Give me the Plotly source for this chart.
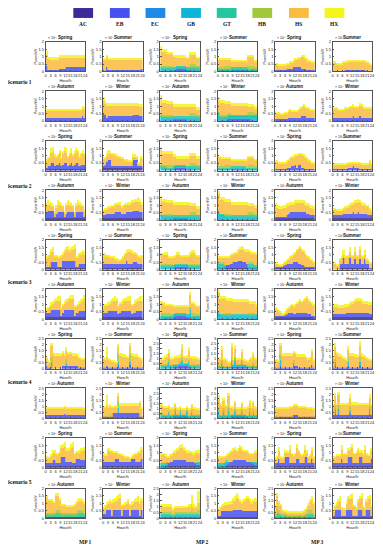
import plotly.graph_objects as go

# ---------------- categories / labels ----------------
series_names = ["AC", "EB", "EC", "GB", "GT", "HB", "HS", "HX"]
series_colors = ["#3b2a98", "#4751f0", "#1c8ae6", "#0fb5d6", "#22c79f", "#9fc83a", "#fcbb3e", "#f4f51a"]
hours = list(range(24))
hour_ticks = [0, 3, 6, 9, 12, 15, 18, 21, 24]
hour_tick_labels = ["0", "3", "6", "9", "12", "15", "18", "21", "24"]
scenario_labels = ["Scenario 1", "Scenario 2", "Scenario 3", "Scenario 4", "Scenario 5"]
mp_labels = ["MP 1", "MP 2", "MP 3"]
season_row_a = ["Spring", "Summer"]
season_row_b = ["Autumn", "Winter"]

# ---------------- data (units of 0.1 x 10^4 kW) ----------------
# Scenario 1
s1_mp1_spring = {"EB": [4,1,1,1,1,1,1,1,2,2,2,2,3,3,3,3,3,3,3,3,3,3,3,3],
                 "HS": [7,8,7,7,7,7,7,7,7,7,7,7,6,6,6,6,6,6,6,6,6,6,6,6],
                 "HX": [3,1,2,2,2,2,2,2,2,2,2,2,2,2,2,2,2,2,2,2,2,2,2,2]}
s1_mp1_summer = {"EB": [1,0,3,1,1,1,1,1,1,1,1,1,1,1,1,1,1,1,1,1,1,1,1,2],
                 "HS": [7,8,7,7,7,7,7,7,7,7,7,7,7,7,7,7,7,7,7,7,7,7,7,6],
                 "HX": [1,1,1,1,1,1,1,1,1,1,1,1,1,1,1,1,1,1,1,1,1,1,1,1]}
s1_mp2_spring = {"EB": [0,0,0,0,0,0,0,0,1,1,2,2,2,2,2,2,1,1,0,0,0,0,0,0],
                 "GB": [2,2,2,2,2,2,2,2,1,1,1,1,1,1,1,1,1,1,2,2,2,2,2,2],
                 "GT": [1,1,1,1,1,1,1,1,1,1,1,1,1,1,1,1,1,1,1,1,1,1,1,1],
                 "HB": [1,1,1,1,1,1,1,1,0,0,0,0,0,0,0,0,0,0,2,2,2,2,1,1],
                 "HS": [11,9,9,9,8,8,8,8,7,7,5,5,5,5,5,5,6,6,6,6,6,6,5,5],
                 "HX": [2,2,2,2,1,1,1,1,1,1,2,2,2,2,2,2,1,1,2,2,2,2,1,1]}
s1_mp2_summer = {"EB": [0,0,0,0,0,0,0,0,1,1,1,1,1,1,1,1,1,1,0,0,0,0,0,0],
                 "GB": [1,1,1,1,1,1,1,1,1,1,1,1,1,1,1,1,1,1,1,1,1,1,1,1],
                 "GT": [1,1,1,1,1,1,1,1,1,1,1,1,1,1,1,1,1,1,1,1,1,1,1,1],
                 "HB": [1,1,1,1,2,2,2,2,0,0,0,0,0,0,0,0,0,0,2,2,2,2,1,1],
                 "HS": [5,5,5,5,4,4,4,4,4,4,4,4,4,4,4,4,4,4,6,6,6,6,4,4],
                 "HX": [1,1,1,1,1,1,1,1,1,1,1,1,1,1,1,1,1,1,1,1,1,1,1,1]}
s1_mp3_spring = {"EB": [1,1,1,1,1,1,1,2,2,2,2,3,3,3,3,3,2,2,2,1,1,1,1,1],
                 "HS": [4,4,3,3,3,3,3,3,3,4,4,4,5,5,6,6,8,8,7,7,6,6,5,5],
                 "HX": [1,1,1,1,1,1,1,1,1,1,1,1,1,1,1,1,1,1,1,1,1,1,1,1]}
s1_mp3_summer = {"EB": [0,0,0,0,0,0,0,1,1,1,1,1,1,1,1,1,1,1,1,1,0,0,0,0],
                 "HS": [6,6,5,5,5,5,6,5,5,6,6,6,6,6,6,6,6,6,6,6,6,6,5,4],
                 "HX": [1,1,1,1,1,1,1,1,1,1,1,1,1,1,1,1,1,1,1,1,1,1,1,1]}
s1_mp1_autumn = {"EB": [2,2,2,2,2,2,2,2,2,2,2,2,2,2,2,2,2,2,2,2,2,2,3,2],
                 "HS": [5,5,5,5,5,5,5,5,5,5,5,5,5,5,5,5,5,5,5,5,5,5,5,5],
                 "HX": [1,1,1,1,1,1,1,1,1,1,1,1,1,1,1,1,1,1,1,1,1,1,2,2]}
s1_mp1_winter = {"EB": [5,4,2,3,3,3,3,3,3,3,3,3,3,3,3,3,3,3,4,4,4,4,3,3],
                 "HS": [8,7,8,7,7,7,7,7,7,7,7,7,7,7,7,7,7,7,6,6,6,6,6,6],
                 "HX": [3,2,2,2,2,2,2,2,2,2,2,2,2,2,2,2,2,2,2,2,2,2,2,2]}
s1_mp2_autumn = {"EB": [0,0,0,0,0,0,0,0,1,1,1,1,1,1,1,1,0,0,0,0,0,0,0,0],
                 "GB": [3,2,2,2,2,2,2,2,1,1,1,1,1,1,1,1,2,2,2,2,2,2,2,2],
                 "GT": [1,1,1,1,1,1,1,1,1,1,1,1,1,1,1,1,1,1,1,1,1,1,1,1],
                 "HB": [1,1,1,1,1,1,1,1,0,0,0,0,0,0,0,0,0,0,2,2,2,2,1,1],
                 "HS": [10,8,8,8,7,7,7,7,6,6,6,6,6,6,6,6,6,6,4,4,4,4,3,3],
                 "HX": [2,2,2,2,2,2,2,2,2,2,2,2,2,2,2,2,2,2,2,2,2,2,2,2]}
s1_mp2_winter = {"EB": [0,0,0,0,0,0,1,1,1,1,1,1,1,1,1,1,1,1,1,1,0,0,0,0],
                 "GB": [4,2,2,2,2,2,2,2,2,2,2,2,2,2,2,2,2,2,2,2,3,3,3,3],
                 "GT": [1,1,1,1,1,1,1,1,1,1,1,1,1,1,1,1,1,1,1,1,1,1,1,1],
                 "HB": [1,1,1,1,1,1,1,1,0,0,0,0,0,0,0,0,0,0,2,2,2,2,1,1],
                 "HS": [8,8,8,8,7,7,6,6,6,6,6,6,6,6,6,6,6,6,3,3,3,3,3,3],
                 "HX": [2,2,2,2,2,2,2,2,2,2,2,2,2,2,2,2,2,2,2,2,2,2,2,2]}
s1_mp3_autumn = {"EB": [1,1,1,1,1,1,1,1,2,2,2,2,2,2,2,2,3,3,3,2,2,2,2,2],
                 "HS": [4,4,4,3,3,3,4,4,4,5,4,4,4,4,5,6,6,7,6,6,6,5,5,5],
                 "HX": [1,1,1,1,1,1,1,1,1,1,1,1,1,1,1,1,1,1,1,1,1,1,1,1]}
s1_mp3_winter = {"EB": [2,2,2,2,2,2,2,2,2,2,2,2,3,2,2,2,3,2,2,2,2,2,2,2],
                 "HS": [6,6,6,5,5,5,5,6,6,6,7,7,6,7,7,7,7,8,7,6,6,6,6,6],
                 "HX": [1,1,1,1,1,1,1,1,1,1,1,1,2,1,1,1,2,1,1,1,1,1,1,1]}

# Scenario 2
s2_mp1_spring = {"AC": [1,1,1,1,1,1,1,1,1,1,1,1,1,1,1,1,1,1,1,1,1,1,1,1],
                 "EB": [1,2,2,4,4,2,3,3,4,2,3,4,4,2,3,4,2,3,4,4,2,3,3,3],
                 "HS": [5,5,6,7,8,7,5,6,7,5,7,8,7,6,7,7,7,7,8,7,6,7,8,7],
                 "HX": [1,1,1,3,3,1,1,1,2,1,2,3,3,1,1,3,1,2,2,2,1,1,2,1]}
s2_mp1_summer = {"AC": [2,2,2,2,2,2,2,2,2,2,2,2,2,2,2,2,2,2,2,2,2,2,2,2],
                 "EB": [1,2,4,5,5,1,1,1,1,1,1,1,1,1,1,1,1,1,5,5,5,1,1,1],
                 "HS": [5,4,4,4,4,8,8,7,7,6,6,5,5,4,4,3,3,3,2,2,2,2,2,5],
                 "HX": [1,1,2,3,2,1,1,1,1,1,1,1,1,1,1,1,1,1,2,2,1,1,1,2]}
s2_mp2_spring = {"EB": [0,0,0,0,0,0,0,0,1,2,2,2,2,2,2,2,1,1,0,0,0,0,0,0],
                 "GB": [3,2,2,2,1,1,1,1,1,1,1,1,1,1,1,1,1,1,2,2,2,2,2,2],
                 "GT": [1,1,1,1,1,1,1,1,1,1,1,1,1,1,1,1,1,1,1,1,1,1,1,1],
                 "HB": [1,1,1,1,2,2,2,2,0,0,0,0,0,0,0,0,0,0,2,2,2,2,1,1],
                 "HS": [9,7,7,7,7,7,7,7,6,5,4,4,4,4,4,4,5,5,5,5,5,5,4,4],
                 "HX": [2,2,2,2,2,2,2,2,2,2,2,2,2,2,2,2,2,2,2,2,2,2,2,2]}
s2_mp2_summer = {"EB": [0,0,0,0,0,0,0,0,1,1,1,1,1,1,1,1,1,0,0,0,0,0,0,0],
                 "GB": [1,1,1,1,1,1,1,1,1,1,1,1,1,1,1,1,1,1,1,1,1,1,1,1],
                 "GT": [1,1,1,1,1,1,1,1,1,1,1,1,1,1,1,1,1,1,1,1,1,1,1,1],
                 "HB": [1,1,1,1,2,2,2,2,0,0,0,0,0,0,0,0,0,0,2,2,2,2,1,1],
                 "HS": [6,6,5,5,4,4,4,4,4,4,4,4,4,4,4,4,4,5,5,5,5,5,4,4],
                 "HX": [1,1,1,1,1,1,1,1,1,1,1,1,1,1,1,1,1,1,1,1,1,1,1,1]}
s2_mp3_spring = {"EB": [1,1,1,1,1,1,1,2,2,2,3,3,4,2,4,4,2,2,1,1,1,1,1,1],
                 "HS": [5,5,4,4,4,4,4,4,5,6,6,6,6,8,7,7,9,8,8,7,6,5,4,4],
                 "HX": [1,1,1,1,1,1,1,1,1,1,1,1,1,1,1,1,1,1,1,1,1,1,1,1]}
s2_mp3_summer = {"EB": [1,1,1,1,1,1,1,1,1,2,2,2,3,2,2,2,1,1,1,1,1,1,1,1],
                 "HS": [3,3,3,3,3,3,3,3,3,3,3,3,2,3,3,3,4,3,3,3,3,3,5,3],
                 "HX": [1,1,1,1,1,1,1,1,1,1,1,1,1,1,1,1,1,1,1,1,1,1,1,1]}
s2_mp1_autumn = {"AC": [1,1,1,1,1,1,1,1,1,1,1,1,1,1,1,1,1,1,1,1,1,1,1,1],
                 "EB": [4,5,5,5,5,1,3,4,4,4,4,1,3,4,4,4,4,1,4,4,4,4,4,1],
                 "HS": [4,4,4,3,3,3,4,5,5,4,4,3,5,5,5,4,4,3,4,5,5,4,4,4],
                 "HX": [2,3,2,2,1,1,2,3,2,2,1,1,2,3,2,2,1,1,2,3,2,2,1,1]}
s2_mp1_winter = {"AC": [1,1,1,1,1,1,1,1,1,1,1,1,1,1,1,1,1,1,1,1,1,1,1,1],
                 "EB": [2,2,3,3,3,3,3,4,4,4,4,3,3,3,4,4,4,4,5,5,5,5,4,4],
                 "HS": [3,4,3,4,4,5,5,5,5,5,5,4,5,6,5,5,5,6,5,6,6,6,7,5],
                 "HX": [1,1,1,1,1,1,1,1,1,2,2,1,1,1,1,2,2,2,2,2,2,3,2,2]}
s2_mp2_autumn = {"EB": [0,0,0,0,0,0,0,0,1,1,1,1,1,1,1,1,1,0,0,0,0,0,0,0],
                 "GB": [3,2,2,2,2,2,2,2,1,1,1,1,1,1,1,1,1,2,2,2,2,2,2,2],
                 "GT": [1,1,1,1,1,1,1,1,1,1,1,1,1,1,1,1,1,1,1,1,1,1,1,1],
                 "HB": [0,0,0,0,1,1,1,1,0,0,0,0,0,0,0,0,0,0,2,2,2,2,0,0],
                 "HS": [10,9,9,9,7,7,7,7,7,7,7,7,7,7,7,7,7,7,4,4,4,4,4,4],
                 "HX": [2,2,2,2,2,2,2,2,2,2,2,2,2,2,2,2,2,2,2,2,2,2,2,2]}
s2_mp2_winter = {"GB": [5,3,3,3,2,2,2,2,2,2,2,2,2,2,2,2,2,2,2,2,2,2,2,2],
                 "GT": [1,1,1,1,1,1,1,1,1,1,1,1,1,1,1,1,1,1,1,1,1,1,1,1],
                 "HB": [0,0,0,0,1,1,1,1,0,0,0,0,0,0,0,0,0,0,2,2,2,2,1,1],
                 "HS": [11,9,9,9,8,8,8,8,7,7,7,7,7,7,7,7,7,7,4,4,4,4,4,4],
                 "HX": [2,2,2,2,2,2,2,2,2,2,2,2,2,2,2,2,2,2,2,2,2,2,2,2]}
s2_mp3_autumn = {"AC": [1,1,1,1,1,1,1,1,1,1,1,1,1,1,1,1,1,1,1,1,1,1,1,1],
                 "EB": [1,1,1,1,1,1,1,2,3,4,4,4,4,4,4,4,4,4,4,3,3,2,2,2],
                 "HS": [7,6,5,5,5,6,6,6,5,5,5,5,6,6,6,6,6,6,5,5,5,5,5,4],
                 "HX": [2,2,2,2,2,2,2,2,2,2,2,2,2,2,2,2,2,2,2,2,2,2,2,2]}
s2_mp3_winter = {"AC": [1,1,1,1,1,1,1,1,1,1,1,1,1,1,1,1,1,1,1,1,1,1,1,1],
                 "EB": [2,2,2,2,2,2,3,3,3,3,3,3,4,3,3,4,3,3,3,3,3,2,2,2],
                 "HS": [4,4,3,3,3,3,3,4,4,4,5,6,5,7,7,7,7,6,5,6,5,6,4,3],
                 "HX": [1,1,1,1,1,1,1,1,1,2,2,2,2,2,2,2,2,2,2,1,1,1,1,1]}

# Scenario 3
s3_mp1_spring = {"AC": [1,1,1,1,1,1,1,1,1,1,1,1,1,1,1,1,1,1,1,1,1,1,1,1],
                 "EB": [1,1,1,4,4,4,4,1,1,1,5,5,5,5,5,5,5,5,1,1,3,3,3,3],
                 "HS": [6,7,8,7,7,4,4,6,6,7,4,6,7,7,6,7,7,8,6,6,6,6,7,6],
                 "HX": [1,1,1,2,3,1,1,1,1,1,2,2,2,3,2,2,3,3,1,1,1,2,2,2]}
s3_mp1_summer = {"AC": [1,1,1,1,1,1,1,1,1,1,1,1,1,1,1,1,1,1,1,1,1,1,1,1],
                 "EB": [3,3,3,3,3,3,3,3,3,3,3,3,3,3,5,3,3,3,4,4,4,3,3,3],
                 "HS": [5,6,5,5,4,4,4,3,3,2,2,3,4,6,5,8,8,7,6,6,5,5,4,5],
                 "HX": [1,1,1,1,1,1,1,1,1,1,1,1,1,1,2,2,2,2,1,1,1,1,1,1]}
s3_mp2_spring = {"EB": [0,0,0,0,0,0,0,0,1,2,2,2,2,2,2,2,2,1,0,0,0,0,0,0],
                 "GB": [2,2,2,2,2,2,2,2,1,1,1,1,1,1,1,1,1,1,2,2,2,2,2,2],
                 "GT": [1,1,1,1,1,1,1,1,1,1,1,1,1,1,1,1,1,1,1,1,1,1,1,1],
                 "HB": [1,1,1,1,1,1,1,1,0,0,0,0,0,0,0,0,0,0,1,1,1,1,1,1],
                 "HS": [6,6,6,6,6,4,4,4,5,5,6,6,5,5,5,5,5,6,6,7,7,6,5,5],
                 "HX": [1,1,1,2,2,1,1,1,1,1,2,2,1,1,1,1,1,1,2,2,2,2,1,1]}
s3_mp2_summer = {"AC": [1,1,1,1,1,1,1,1,1,1,1,1,1,1,1,1,1,1,1,1,1,1,1,1],
                 "EB": [0,0,0,0,1,2,2,3,3,4,4,4,5,5,5,4,4,3,0,0,0,0,0,0],
                 "GB": [1,1,1,1,0,0,0,0,0,0,0,0,0,0,0,0,0,0,1,1,1,1,1,1],
                 "GT": [2,2,2,2,1,0,0,0,0,0,0,0,0,0,0,0,0,0,2,2,2,2,1,1],
                 "HB": [1,1,1,1,0,0,0,0,0,0,0,0,0,0,0,0,0,0,1,1,1,1,0,0],
                 "HS": [3,3,3,3,5,5,5,5,6,5,6,6,6,7,8,8,7,8,7,7,6,6,8,7],
                 "HX": [1,1,1,1,1,1,1,1,1,1,1,1,2,2,2,2,2,2,2,1,1,1,1,1]}
s3_mp3_spring = {"AC": [1,1,1,1,1,1,1,1,1,1,1,1,1,1,1,1,1,1,1,1,1,1,1,1],
                 "EB": [1,1,1,1,1,2,2,3,3,3,3,4,4,4,3,3,2,2,1,1,1,1,1,1],
                 "HS": [2,2,1,1,1,1,2,2,3,4,5,5,6,8,10,11,10,9,9,7,6,5,4,3],
                 "HX": [1,1,1,1,1,1,1,1,1,1,1,1,1,1,1,1,1,1,1,1,1,1,1,1]}
s3_mp3_summer = {"AC": [0,0,0,0,1,1,1,1,1,1,1,1,1,1,1,1,1,1,1,1,1,1,0,0],
                 "EB": [0,0,0,0,3,3,7,3,3,3,7,3,3,6,3,3,6,3,3,6,3,3,1,1],
                 "HS": [4,4,3,3,3,4,2,4,5,5,4,5,5,5,5,5,6,5,4,3,3,2,3,3],
                 "HX": [1,1,1,1,1,1,3,1,1,1,3,1,1,3,1,1,3,1,1,3,1,1,1,1]}
s3_mp1_autumn = {"AC": [1,1,1,1,1,1,1,1,1,1,1,1,1,1,1,1,1,1,1,1,1,1,1,1],
                 "EB": [3,3,3,5,5,5,5,5,5,1,3,5,5,5,5,5,5,1,3,3,4,4,4,4],
                 "HS": [2,3,4,3,4,5,6,6,6,5,5,4,5,6,7,7,7,6,4,5,5,6,7,8],
                 "HX": [1,1,1,2,2,2,2,3,3,1,1,2,2,2,2,3,3,1,1,1,2,2,2,3]}
s3_mp1_winter = {"AC": [1,1,1,1,1,1,1,1,1,1,1,1,1,1,1,1,1,1,1,1,1,1,1,1],
                 "EB": [3,3,3,4,4,4,4,4,4,2,3,4,4,4,4,4,4,2,3,3,4,4,4,4],
                 "HS": [4,5,5,4,5,6,7,7,7,5,6,5,6,7,7,7,7,6,5,6,6,7,7,7],
                 "HX": [1,1,1,2,2,2,2,3,2,1,1,2,2,2,2,3,3,1,1,2,2,2,3,3]}
s3_mp2_autumn = {"EB": [0,0,0,0,0,0,0,0,1,2,2,2,2,2,2,2,1,1,0,0,0,0,0,0],
                 "GB": [1,1,1,1,1,1,1,1,1,1,1,1,1,1,1,1,1,1,6,1,1,1,1,1],
                 "GT": [1,1,1,1,1,1,1,1,1,1,1,1,1,1,1,1,1,1,1,1,1,1,1,1],
                 "HB": [2,2,2,2,2,2,1,1,0,0,0,0,0,0,0,0,0,0,1,2,2,2,1,1],
                 "HS": [7,7,6,5,5,5,6,6,5,4,4,4,4,4,4,4,5,5,8,6,6,5,5,5],
                 "HX": [1,1,1,1,1,1,1,1,1,1,1,1,1,1,1,1,1,1,2,1,1,1,1,1]}
s3_mp2_winter = {"GB": [4,2,2,2,2,2,2,2,2,2,2,2,2,2,2,2,2,2,2,2,2,2,2,2],
                 "GT": [1,1,1,1,1,1,1,1,1,1,1,1,1,1,1,1,1,1,1,1,1,1,1,1],
                 "HB": [0,0,0,0,1,1,1,1,0,0,0,0,0,0,0,0,0,0,1,1,1,1,0,0],
                 "HS": [12,10,10,10,9,8,8,8,9,8,8,8,8,8,8,8,8,8,7,6,6,6,7,5],
                 "HX": [2,2,2,2,2,2,2,2,2,2,2,2,2,2,2,2,2,2,2,2,2,2,2,2]}
s3_mp3_autumn = {"AC": [1,1,1,1,1,1,1,1,1,1,1,1,1,1,1,1,1,1,1,1,1,1,1,1],
                 "EB": [1,1,1,1,1,1,2,2,3,3,3,2,2,3,3,3,3,3,3,3,2,2,1,1],
                 "HS": [5,4,3,2,1,1,1,3,3,4,5,5,6,6,7,8,7,8,9,10,9,8,8,7],
                 "HX": [1,1,1,1,1,1,1,1,1,1,1,1,1,1,1,1,1,1,1,1,1,1,1,1]}
s3_mp3_winter = {"AC": [1,1,1,1,1,1,1,1,1,1,1,1,1,1,1,1,1,1,1,1,1,1,1,1],
                 "EB": [2,2,2,2,2,2,2,2,3,3,3,3,3,3,3,3,3,3,3,3,3,3,2,2],
                 "HS": [5,5,5,4,4,4,4,5,4,4,5,6,6,7,8,8,8,7,6,6,6,5,6,6],
                 "HX": [2,2,2,2,2,2,2,2,2,2,2,2,2,2,2,2,2,2,2,2,2,2,2,2]}

# Scenario 4
s4_mp1_spring = {"EB": [2,1,1,0,0,0,0,0,0,0,2,2,2,2,2,2,2,2,2,2,1,1,1,1],
                 "GB": [0,0,0,6,0,0,0,0,0,0,0,0,3,0,0,0,0,0,0,0,0,0,0,0],
                 "HB": [0,0,0,4,0,0,0,0,0,0,0,0,3,0,0,0,0,0,0,0,0,0,0,0],
                 "HS": [6,5,4,9,12,11,11,11,11,11,10,9,7,10,10,10,9,9,9,8,8,7,7,7],
                 "HX": [2,1,1,3,2,2,2,2,2,2,3,2,3,2,2,2,2,2,2,2,1,1,1,1]}
s4_mp1_summer = {"EB": [1,1,2,1,1,1,1,1,1,3,1,1,1,1,1,1,3,1,1,1,1,1,1,1],
                 "GB": [0,0,0,0,0,0,0,0,0,3,0,0,0,0,0,0,3,0,0,0,0,0,0,0],
                 "HB": [0,0,0,0,0,0,0,0,0,6,0,0,0,0,0,0,6,0,0,0,0,0,0,0],
                 "HS": [8,7,8,7,6,5,5,4,4,6,10,10,9,9,8,8,7,10,10,9,9,8,8,7],
                 "HX": [1,1,8,1,1,1,1,1,1,3,2,2,2,2,2,2,3,2,2,2,2,2,1,1]}
s4_mp2_spring = {"EB": [0,0,0,0,0,0,0,0,2,2,2,3,3,3,3,3,3,2,0,0,0,0,0,0],
                 "GB": [2,2,2,2,3,6,2,2,1,1,1,1,2,4,1,1,1,4,2,2,2,2,2,2],
                 "GT": [1,1,1,1,1,1,1,1,1,1,1,1,1,1,1,1,1,1,1,1,1,1,1,1],
                 "HB": [1,1,1,1,2,3,1,1,0,0,0,0,1,3,0,0,0,2,1,1,1,1,1,1],
                 "HS": [6,5,5,7,6,6,6,5,6,7,7,6,5,9,6,6,6,9,7,7,6,6,6,5],
                 "HX": [2,1,2,2,3,4,2,2,2,2,3,2,3,5,2,2,3,4,2,2,2,3,2,2]}
s4_mp2_summer = {"EB": [0,0,0,0,0,0,0,0,2,2,2,2,2,2,2,2,2,1,0,0,0,0,0,0],
                 "GB": [1,1,5,1,1,1,1,1,5,1,5,1,1,1,4,1,1,1,1,1,1,3,1,1],
                 "GT": [1,1,1,1,1,1,1,1,1,1,1,1,1,1,1,1,1,1,1,1,1,1,1,1],
                 "HB": [1,1,4,1,0,0,0,0,4,0,4,0,0,0,3,0,0,0,1,1,1,3,1,1],
                 "HS": [7,6,9,6,7,6,4,4,10,5,8,5,5,5,7,5,4,4,4,6,7,7,7,6],
                 "HX": [2,1,4,2,1,1,1,1,4,2,4,2,2,2,3,2,1,1,1,1,2,3,2,1]}
s4_mp3_spring = {"EB": [1,1,1,2,1,1,1,1,1,1,1,2,2,2,1,1,1,1,1,1,1,1,3,1],
                 "GB": [0,0,0,5,0,0,0,0,0,0,0,3,0,0,0,0,0,0,0,0,0,0,0,0],
                 "HB": [0,0,0,5,0,0,0,0,0,0,0,2,0,0,0,0,0,0,0,0,0,0,0,0],
                 "HS": [6,6,5,7,10,10,10,10,10,10,10,6,10,8,9,9,9,9,9,8,7,8,11,6],
                 "HX": [1,1,1,3,2,2,2,2,2,2,2,2,2,2,2,2,2,2,1,1,1,1,3,1]}
s4_mp3_summer = {"EB": [1,2,1,1,1,1,1,1,1,2,1,1,1,1,1,1,2,1,1,1,1,1,1,1],
                 "GB": [0,4,0,0,0,0,0,0,0,4,0,0,0,0,0,0,4,0,0,0,0,0,0,0],
                 "HB": [0,4,0,0,0,0,0,0,0,3,0,0,0,0,0,0,4,0,0,0,0,0,0,0],
                 "HS": [8,8,11,10,9,9,8,7,6,7,10,10,10,9,9,9,9,10,9,9,8,7,6,6],
                 "HX": [1,4,2,2,2,1,1,1,1,3,2,2,2,2,2,1,4,2,2,1,1,1,1,1]}
s4_mp1_autumn = {"EB": [2,2,2,2,2,2,2,2,2,2,2,3,2,2,2,2,2,2,2,2,2,2,2,2],
                 "HS": [6,6,6,6,6,6,6,6,6,6,6,6,6,6,6,6,6,6,6,6,6,6,6,5],
                 "HX": [1,1,1,1,1,1,1,1,1,1,1,1,1,1,1,1,1,1,1,1,1,1,1,1]}
s4_mp1_winter = {"EB": [1,1,1,1,1,1,4,4,4,4,4,4,4,4,4,4,4,4,4,4,4,4,1,1],
                 "GB": [0,0,0,0,0,0,0,0,0,4,0,0,0,0,0,0,0,0,0,0,0,0,0,0],
                 "HB": [0,0,0,0,2,0,0,0,0,6,0,0,0,0,0,0,0,0,0,0,0,0,3,0],
                 "HS": [8,8,10,8,7,8,5,5,5,4,6,6,6,6,6,6,6,6,6,6,6,6,8,7],
                 "HX": [1,1,8,1,1,1,1,1,1,3,2,2,2,2,2,2,2,2,2,2,2,2,2,1]}
s4_mp2_autumn = {"EB": [0,0,0,0,0,0,0,0,1,1,1,1,1,1,1,1,1,0,0,0,0,0,0,0],
                 "GB": [2,2,1,1,1,4,1,1,1,5,1,1,4,1,1,1,4,1,1,4,1,1,1,1],
                 "GT": [1,1,1,1,1,1,1,1,1,1,1,1,1,1,1,1,1,1,1,1,1,1,1,1],
                 "HB": [1,1,1,1,1,2,1,1,0,3,0,0,2,0,0,0,2,0,1,3,1,1,1,1],
                 "HS": [9,8,7,7,7,4,6,6,6,3,6,5,2,5,5,5,2,6,5,4,6,6,5,5],
                 "HX": [2,2,2,1,1,2,1,1,1,2,1,1,2,1,1,1,2,1,1,2,1,1,1,1]}
s4_mp2_winter = {"EB": [0,0,0,0,0,0,0,0,1,1,1,1,1,1,1,1,1,0,0,0,0,0,0,0],
                 "GB": [6,1,1,5,1,1,6,1,1,1,4,1,1,1,4,1,1,1,1,5,1,4,1,1],
                 "GT": [1,1,1,1,1,1,1,1,1,1,1,1,1,1,1,1,1,1,1,1,1,1,1,1],
                 "HB": [4,1,1,4,1,1,5,1,0,0,3,0,0,0,3,0,0,0,1,4,1,3,1,1],
                 "HS": [9,10,9,7,9,8,10,7,7,6,6,6,6,6,5,6,6,7,7,5,7,7,7,6],
                 "HX": [3,2,2,3,2,2,3,2,1,1,2,1,1,1,2,1,1,1,1,3,2,2,1,1]}
s4_mp3_autumn = {"EB": [1,1,1,1,1,1,1,1,1,1,1,2,2,2,1,1,1,1,1,1,1,1,1,1],
                 "HS": [7,7,7,7,7,7,7,7,7,8,8,8,8,8,8,8,8,8,8,7,7,7,7,6],
                 "HX": [1,1,1,1,1,1,1,1,1,1,1,1,1,1,1,1,1,1,1,1,1,1,1,1]}
s4_mp3_winter = {"EB": [2,3,2,3,2,2,2,2,2,2,3,2,2,2,2,2,2,2,2,2,2,2,3,2],
                 "GB": [0,4,0,4,0,0,0,0,0,0,3,0,0,0,0,0,0,0,0,0,0,0,4,0],
                 "HB": [0,4,0,4,0,0,0,0,0,0,3,0,0,0,0,0,0,0,0,0,0,0,4,0],
                 "HS": [9,7,9,8,9,9,9,9,9,9,8,9,9,9,9,9,9,9,9,9,9,9,6,8],
                 "HX": [1,3,1,3,1,1,1,1,1,2,3,2,2,2,2,1,1,1,1,1,1,1,3,1]}

# Scenario 5
s5_mp1_spring = {"AC": [1,1,1,1,1,1,1,1,1,1,1,1,1,1,1,1,1,1,1,1,1,1,1,1],
                 "EB": [2,2,2,2,4,4,2,2,2,6,6,6,3,3,3,3,2,2,5,5,5,4,4,4],
                 "HS": [4,3,4,5,5,5,6,6,7,6,6,7,7,7,8,9,11,6,4,4,4,6,6,7],
                 "HX": [1,1,1,1,2,2,1,1,1,2,3,3,2,2,2,3,3,1,1,1,2,2,2,2]}
s5_mp1_summer = {"AC": [1,1,1,1,1,1,1,1,1,1,1,1,1,1,1,1,1,1,1,1,1,1,1,1],
                 "EB": [3,3,3,3,3,3,3,5,5,5,3,3,3,3,3,3,3,5,5,5,3,3,3,5],
                 "HS": [5,4,4,7,7,7,6,4,4,3,5,4,4,3,3,3,2,1,2,3,5,6,6,6],
                 "HX": [1,1,1,2,1,1,1,1,1,1,1,1,1,1,1,1,1,1,1,1,1,1,1,2]}
s5_mp2_spring = {"AC": [1,1,1,1,1,1,1,1,1,1,1,1,1,1,1,1,1,1,1,1,1,1,1,1],
                 "EB": [0,0,0,0,1,2,3,3,4,4,4,4,4,4,4,4,3,3,3,3,3,2,1,1],
                 "GB": [1,1,1,1,1,0,0,0,0,0,0,0,0,0,0,0,0,0,0,0,0,0,1,1],
                 "GT": [1,1,1,1,1,0,0,0,0,0,0,0,0,0,0,0,0,0,0,0,0,0,1,1],
                 "HS": [6,6,6,5,3,4,4,5,5,5,6,7,8,8,7,6,6,6,6,6,5,7,6,6],
                 "HX": [1,1,1,1,1,1,1,1,1,2,2,2,2,3,2,2,2,2,1,1,1,1,2,2]}
s5_mp2_summer = {"AC": [1,1,1,1,1,1,1,1,1,1,1,1,1,1,1,1,1,1,1,1,1,1,1,1],
                 "EB": [0,0,0,0,0,1,2,3,3,4,4,4,4,4,4,4,4,3,3,3,2,2,1,1],
                 "GB": [1,1,1,1,2,2,1,0,0,0,0,0,0,0,0,0,0,0,0,0,1,1,1,1],
                 "GT": [1,1,1,1,1,1,0,0,0,0,0,0,0,0,0,0,0,0,0,0,0,0,1,1],
                 "HS": [4,4,4,4,3,3,5,6,7,6,7,6,6,8,7,6,6,7,6,5,5,5,6,6],
                 "HX": [1,1,1,1,1,1,1,1,1,2,2,1,2,2,2,1,1,1,1,1,1,1,1,2]}
s5_mp3_spring = {"AC": [1,1,1,1,1,1,1,1,1,1,1,1,1,1,1,1,1,1,1,1,1,1,1,1],
                 "EB": [2,2,5,2,2,2,6,6,6,2,2,2,2,5,5,2,2,2,6,6,2,2,5,2],
                 "HS": [3,4,5,4,3,4,3,3,3,9,6,5,6,7,5,6,5,6,5,3,4,5,5,4],
                 "HX": [1,1,3,1,1,1,2,1,1,3,1,1,1,3,1,1,1,1,3,2,1,1,3,1]}
s5_mp3_summer = {"AC": [1,1,1,1,1,1,1,1,1,1,1,1,1,1,1,1,1,1,1,1,1,1,1,1],
                 "EB": [2,2,2,2,2,5,2,2,2,6,6,6,2,2,2,2,6,6,2,2,2,2,2,5],
                 "HS": [4,4,5,5,5,6,6,6,6,4,5,6,7,6,7,8,3,3,6,9,6,5,5,5],
                 "HX": [1,1,1,1,1,3,1,1,1,2,2,3,1,1,1,2,2,2,1,3,1,1,1,2]}
s5_mp1_autumn = {"AC": [1,1,1,1,1,1,1,1,1,1,1,1,1,1,1,1,1,1,1,1,1,1,1,1],
                 "GT": [2,2,2,2,2,2,3,3,3,2,2,2,2,2,2,2,2,2,2,3,3,3,3,2],
                 "HB": [1,1,1,1,1,1,2,2,2,1,1,1,1,1,1,1,1,1,1,2,2,2,2,1],
                 "HS": [10,8,8,8,7,7,9,9,6,5,5,5,4,4,4,4,4,5,6,5,6,6,5,6],
                 "HX": [2,1,1,1,1,1,2,2,2,1,1,1,1,1,1,1,1,1,1,2,2,2,2,1]}
s5_mp1_winter = {"AC": [1,1,1,1,1,1,1,1,1,1,1,1,1,1,1,1,1,1,1,1,1,1,1,1],
                 "EB": [2,2,5,5,5,1,5,5,5,5,5,1,5,5,5,5,1,5,5,5,5,5,1,5],
                 "HS": [4,5,3,4,5,8,5,5,6,7,8,6,3,3,4,5,7,3,4,5,5,6,8,6],
                 "HX": [1,1,2,2,2,2,2,3,3,3,3,1,1,2,2,2,1,2,2,2,3,3,1,2]}
s5_mp2_autumn = {"AC": [1,1,1,1,1,1,1,1,1,1,1,1,1,1,1,1,1,1,1,1,1,1,1,1],
                 "GB": [1,1,1,1,1,1,1,1,1,1,1,1,1,1,1,1,1,1,1,1,1,1,1,1],
                 "GT": [2,2,2,2,2,2,2,1,1,2,2,2,2,2,2,2,2,2,2,2,2,2,2,2],
                 "HB": [2,2,2,2,2,2,2,1,1,2,2,2,2,2,2,2,2,2,2,3,2,2,2,3],
                 "HS": [4,4,4,4,4,4,4,4,4,3,3,3,3,3,3,3,3,4,4,5,4,3,3,6],
                 "HX": [2,2,2,2,2,2,2,1,1,2,2,2,2,2,2,2,2,2,2,8,2,2,2,10]}
s5_mp2_winter = {"AC": [1,1,1,1,1,1,1,1,1,1,1,1,1,1,1,1,1,1,1,1,1,1,1,1],
                 "EB": [1,1,4,4,4,4,4,4,4,5,5,5,5,5,5,4,4,4,4,4,4,4,4,4],
                 "HS": [4,5,3,4,4,4,4,5,5,6,6,8,7,5,4,6,7,8,8,7,5,6,7,6],
                 "HX": [1,1,1,1,2,2,2,2,2,2,3,3,3,2,2,2,2,2,2,2,2,2,2,2]}
s5_mp3_autumn = {"AC": [1,1,1,1,1,1,1,1,1,1,1,1,1,1,1,1,1,1,1,1,1,1,1,1],
                 "GT": [2,4,3,2,2,2,2,1,1,1,1,1,1,1,1,1,1,1,2,2,3,3,3,2],
                 "HB": [1,6,3,2,1,1,1,1,1,1,1,1,1,1,1,1,1,1,1,2,3,3,3,2],
                 "HS": [7,8,6,6,3,2,2,2,2,2,2,2,2,2,2,2,2,3,3,4,4,7,9,7],
                 "HX": [1,3,2,1,1,1,1,1,1,1,1,1,1,1,1,1,1,1,1,1,2,3,3,2]}
s5_mp3_winter = {"AC": [1,1,1,1,1,1,1,1,1,1,1,1,1,1,1,1,1,1,1,1,1,1,1,1],
                 "EB": [1,5,5,5,5,1,1,1,5,5,5,5,1,1,1,5,5,5,1,1,5,5,5,1],
                 "HS": [3,2,3,5,6,5,4,4,4,7,7,8,7,6,5,5,7,8,6,5,5,7,7,6],
                 "HX": [1,1,2,2,3,1,1,1,2,2,3,3,1,1,1,2,2,3,1,1,2,2,3,1]}

panel_grid = [
    [s1_mp1_spring, s1_mp1_summer, s1_mp2_spring, s1_mp2_summer, s1_mp3_spring, s1_mp3_summer],
    [s1_mp1_autumn, s1_mp1_winter, s1_mp2_autumn, s1_mp2_winter, s1_mp3_autumn, s1_mp3_winter],
    [s2_mp1_spring, s2_mp1_summer, s2_mp2_spring, s2_mp2_summer, s2_mp3_spring, s2_mp3_summer],
    [s2_mp1_autumn, s2_mp1_winter, s2_mp2_autumn, s2_mp2_winter, s2_mp3_autumn, s2_mp3_winter],
    [s3_mp1_spring, s3_mp1_summer, s3_mp2_spring, s3_mp2_summer, s3_mp3_spring, s3_mp3_summer],
    [s3_mp1_autumn, s3_mp1_winter, s3_mp2_autumn, s3_mp2_winter, s3_mp3_autumn, s3_mp3_winter],
    [s4_mp1_spring, s4_mp1_summer, s4_mp2_spring, s4_mp2_summer, s4_mp3_spring, s4_mp3_summer],
    [s4_mp1_autumn, s4_mp1_winter, s4_mp2_autumn, s4_mp2_winter, s4_mp3_autumn, s4_mp3_winter],
    [s5_mp1_spring, s5_mp1_summer, s5_mp2_spring, s5_mp2_summer, s5_mp3_spring, s5_mp3_summer],
    [s5_mp1_autumn, s5_mp1_winter, s5_mp2_autumn, s5_mp2_winter, s5_mp3_autumn, s5_mp3_winter],
]
# y-axis maxima (x 10^4 kW) per panel
y_max_grid = [
    [2, 2, 2, 2, 2, 2], [2, 2, 2, 2, 2, 2],
    [2, 2, 2, 2, 2, 2], [2, 2, 2, 2, 2, 2],
    [2, 2, 2, 2, 2, 2], [2, 2, 2, 2, 2, 2],
    [2.5, 2.5, 3, 3, 2.5, 2.5], [2.5, 2.5, 3, 3, 2.5, 2.5],
    [2, 2, 2, 2, 2, 2], [2, 2, 2.5, 2, 2.5, 2],
]

# ---------------- layout geometry (page pixels) ----------------
PAGE_W, PAGE_H = 383, 550
OFF = 8  # default body margin of the html page
W, H = PAGE_W - OFF, PAGE_H - OFF
col_left = [45, 103, 161, 219, 277, 335]
row_top = [39, 89, 139, 189, 239, 289, 339, 389, 439, 490]
pw, ph = 40, 30

def px(x):
    return (x - OFF) / W

def py(y):
    return 1 - (y - OFF) / H

fig = go.Figure()
layout = {}
annotations = []
tick_font = dict(family="Liberation Sans", size=4, color="#222")
k = 0
for r in range(10):
    for c in range(6):
        k += 1
        sfx = "" if k == 1 else str(k)
        panel = panel_grid[r][c]
        for name, color in zip(series_names, series_colors):
            if name not in panel:
                continue
            vals = panel[name]
            fig.add_trace(go.Bar(
                x=[h + 0.5 for h in hours[:len(vals)]], y=[v / 10 for v in vals],
                width=1, marker=dict(color=color, line=dict(width=0)), opacity=0.85,
                xaxis="x" + sfx, yaxis="y" + sfx, showlegend=False, name=name,
                hoverinfo="skip"))
        x0, x1 = px(col_left[c]), px(col_left[c] + pw)
        y0, y1 = py(row_top[r] + ph), py(row_top[r])
        layout["xaxis" + sfx] = dict(
            domain=[x0, x1], anchor="y" + sfx, range=[0, 24],
            tickvals=hour_ticks, ticktext=hour_tick_labels, tickfont=tick_font,
            showline=True, mirror=True, linecolor="#555", linewidth=0.5,
            ticks="inside", ticklen=1.5, tickwidth=0.4, tickcolor="#555",
            showgrid=False, zeroline=False, tickangle=0,
            title=dict(text="Hour/h", font=dict(family="Liberation Sans", size=4, color="#222"), standoff=1))
        ymax = y_max_grid[r][c]
        layout["yaxis" + sfx] = dict(
            domain=[y0, y1], anchor="x" + sfx, range=[0, ymax], dtick=0.5,
            tickfont=tick_font, showline=True, mirror=True, linecolor="#555", linewidth=0.5,
            ticks="inside", ticklen=1.5, tickwidth=0.4, tickcolor="#555",
            showgrid=False, zeroline=False,
            title=dict(text="Power/kW", font=dict(family="Liberation Sans", size=3.5, color="#222"), standoff=1))
        season = (season_row_a if r % 2 == 0 else season_row_b)[c % 2]
        annotations.append(dict(text="<b>" + season + "</b>", x=(x0 + x1) / 2, y=y1, xref="paper", yref="paper",
                                xanchor="center", yanchor="bottom", showarrow=False,
                                font=dict(family="Liberation Sans", size=4.5, color="#111")))
        annotations.append(dict(text="× 10<sup>4</sup>", x=x0, y=y1, xref="paper", yref="paper",
                                xanchor="left", yanchor="bottom", showarrow=False,
                                font=dict(family="Liberation Sans", size=3.5, color="#111")))

# legend at the top
legend_x = [73, 110, 146, 182, 218, 254, 291, 327]
shapes = []
for name, color, lx in zip(series_names, series_colors, legend_x):
    shapes.append(dict(type="rect", xref="paper", yref="paper", x0=px(lx), x1=px(lx + 20),
                       y0=py(15), y1=py(5), fillcolor=color, line=dict(width=0)))
    annotations.append(dict(text="<b>" + name + "</b>", x=px(lx + 10), y=py(21), xref="paper", yref="paper",
                            xanchor="center", yanchor="middle", showarrow=False,
                            font=dict(family="Liberation Serif", size=5.5, color="#111")))

scenario_y = [80, 185, 282, 382, 483]
for lab, sy in zip(scenario_labels, scenario_y):
    annotations.append(dict(text="<b>" + lab + "</b>", x=px(19), y=py(sy), xref="paper", yref="paper",
                            xanchor="center", yanchor="middle", showarrow=False,
                            font=dict(family="Liberation Serif", size=5.5, color="#111")))
mp_x = [85, 204, 320]
for lab, mx in zip(mp_labels, mp_x):
    annotations.append(dict(text="<b>" + lab + "</b>", x=px(mx), y=py(544), xref="paper", yref="paper",
                            xanchor="center", yanchor="middle", showarrow=False,
                            font=dict(family="Liberation Serif", size=5.5, color="#111")))

fig.update_layout(width=W, height=H, autosize=False, margin=dict(l=0, r=0, t=0, b=0),
                  paper_bgcolor="white", plot_bgcolor="white", barmode="stack", bargap=0,
                  annotations=annotations, shapes=shapes, showlegend=False, **layout)
fig.write_html("out.html")
